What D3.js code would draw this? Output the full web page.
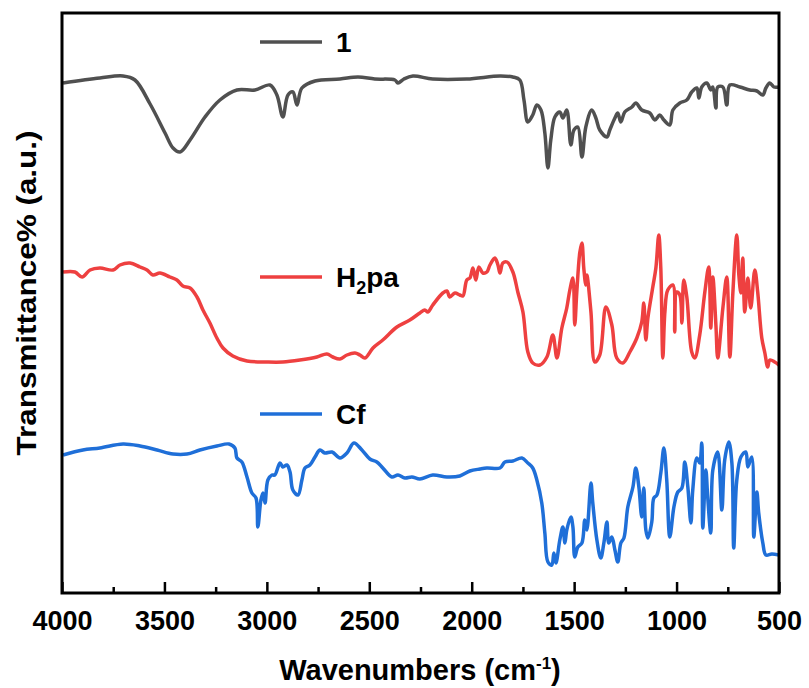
<!DOCTYPE html>
<html>
<head>
<meta charset="utf-8">
<script src="https://cdn.jsdelivr.net/npm/d3@7"></script>
<style>
  body { margin: 0; background: #fff; }
  text { font-family: "Liberation Sans", Arial, sans-serif; font-weight: bold; }
</style>
</head>
<body>
<div id="chart"></div>
<script>
// [wavenumber (cm-1), transmittance (a.u.)]
const spectrum1 = [
  [3995, 510], [3815, 515], [3702, 517], [3644, 513], [3570, 489], [3497, 460], [3458, 445],
  [3424, 441], [3375, 453], [3302, 476], [3229, 493], [3146, 503], [3058, 503], [2985, 508],
  [2951, 498], [2922, 476], [2897, 498], [2873, 501], [2853, 488], [2829, 505], [2765, 512],
  [2643, 514], [2555, 516], [2473, 514], [2375, 513], [2360, 510], [2331, 514], [2287, 517],
  [2190, 514], [2024, 514], [1862, 517], [1799, 516], [1765, 513], [1745, 493], [1726, 471],
  [1702, 478], [1682, 488], [1662, 483], [1643, 460], [1628, 425], [1614, 453], [1594, 476],
  [1570, 481], [1555, 475], [1536, 483], [1516, 448], [1501, 463], [1482, 466], [1462, 436],
  [1443, 466], [1414, 483], [1394, 475], [1375, 463], [1340, 456], [1326, 463], [1301, 475],
  [1287, 480], [1272, 471], [1253, 481], [1218, 486], [1199, 490], [1170, 483], [1131, 480],
  [1106, 473], [1082, 478], [1062, 473], [1033, 468], [1018, 483], [984, 490], [950, 493],
  [926, 501], [901, 505], [891, 495], [877, 506], [852, 510], [833, 503], [823, 506],
  [808, 485], [799, 506], [774, 506], [755, 488], [740, 508], [691, 506], [643, 503],
  [608, 502], [579, 498], [564, 505], [545, 510], [525, 506], [500, 506]
];

const spectrumH2pa = [
  [3995, 321], [3937, 321], [3902, 316], [3863, 323], [3815, 325], [3751, 323], [3717, 328],
  [3668, 330], [3619, 326], [3585, 323], [3556, 318], [3522, 320], [3473, 316], [3439, 313],
  [3410, 307], [3375, 305], [3341, 296], [3312, 283], [3278, 270], [3244, 255], [3214, 245],
  [3166, 237], [3097, 232], [3000, 231], [2922, 231], [2839, 233], [2756, 236], [2707, 239],
  [2678, 236], [2643, 234], [2609, 238], [2570, 240], [2546, 238], [2521, 235], [2482, 245],
  [2434, 253], [2365, 266], [2302, 273], [2253, 280], [2229, 283], [2214, 281], [2190, 288],
  [2141, 300], [2121, 302], [2107, 296], [2082, 300], [2058, 298], [2043, 297], [2024, 313],
  [2009, 315], [1994, 325], [1980, 313], [1965, 326], [1946, 320], [1926, 321], [1911, 328],
  [1887, 335], [1872, 328], [1862, 320], [1848, 330], [1828, 331], [1799, 321], [1775, 301],
  [1750, 281], [1726, 241], [1702, 230], [1667, 228], [1633, 236], [1604, 258], [1584, 235],
  [1560, 265], [1536, 285], [1521, 303], [1506, 315], [1497, 268], [1487, 301], [1472, 341],
  [1462, 350], [1453, 325], [1443, 308], [1438, 318], [1418, 281], [1399, 231], [1375, 238],
  [1345, 286], [1316, 268], [1292, 235], [1262, 230], [1228, 241], [1194, 255], [1170, 271],
  [1160, 290], [1150, 253], [1140, 275], [1116, 306], [1101, 325], [1087, 358], [1077, 325],
  [1067, 235], [1057, 281], [1043, 303], [1018, 308], [1009, 261], [999, 301], [984, 298],
  [974, 270], [965, 313], [950, 296], [926, 241], [911, 235], [887, 258], [862, 301],
  [843, 326], [833, 265], [823, 316], [808, 268], [799, 235], [774, 285], [755, 316],
  [740, 236], [725, 301], [706, 358], [696, 318], [686, 300], [677, 335], [667, 281],
  [652, 315], [638, 285], [618, 323], [604, 301], [584, 255], [569, 240], [555, 226],
  [545, 233], [521, 231], [500, 228]
];

const spectrumCf = [
  [3995, 138], [3898, 143], [3815, 145], [3702, 149], [3619, 147], [3536, 143], [3458, 139],
  [3390, 139], [3327, 143], [3244, 147], [3185, 149], [3156, 145], [3146, 135], [3122, 131],
  [3097, 116], [3073, 100], [3053, 95], [3044, 66], [3029, 93], [3019, 100], [3009, 90],
  [2995, 113], [2975, 118], [2961, 118], [2936, 130], [2922, 126], [2902, 128], [2887, 121],
  [2873, 103], [2848, 98], [2829, 113], [2814, 125], [2790, 128], [2765, 136], [2741, 143],
  [2717, 140], [2682, 141], [2643, 135], [2609, 140], [2575, 150], [2536, 143], [2497, 134],
  [2463, 131], [2434, 125], [2390, 116], [2360, 118], [2326, 115], [2292, 116], [2253, 114],
  [2190, 118], [2121, 116], [2058, 117], [2009, 122], [1960, 124], [1926, 125], [1862, 125],
  [1838, 131], [1799, 132], [1755, 135], [1726, 130], [1702, 125], [1682, 113], [1658, 90],
  [1643, 60], [1628, 31], [1609, 28], [1599, 40], [1589, 30], [1570, 53], [1555, 66],
  [1545, 50], [1536, 63], [1516, 76], [1506, 66], [1497, 36], [1482, 46], [1462, 50],
  [1448, 73], [1438, 63], [1418, 110], [1409, 90], [1389, 53], [1370, 35], [1355, 50],
  [1340, 71], [1331, 50], [1316, 56], [1301, 43], [1287, 31], [1272, 50], [1257, 55],
  [1238, 86], [1213, 106], [1199, 125], [1184, 106], [1170, 76], [1160, 105], [1150, 63],
  [1140, 55], [1121, 71], [1111, 95], [1096, 98], [1077, 120], [1062, 145], [1048, 113],
  [1033, 56], [1013, 86], [994, 101], [974, 105], [960, 131], [945, 106], [930, 70],
  [921, 103], [901, 135], [887, 130], [877, 150], [872, 65], [857, 123], [848, 96],
  [833, 60], [823, 123], [799, 141], [779, 83], [765, 133], [745, 151], [730, 130],
  [721, 45], [706, 113], [686, 136], [662, 141], [652, 126], [633, 136], [623, 56],
  [608, 101], [599, 80], [579, 50], [564, 38], [535, 39], [500, 38]
];

const seriesNames = ["1", "H2pa", "Cf"];
const seriesColors = ["#505050", "#ee4040", "#1f6fd8"];
const xMajorTicks = [4000, 3500, 3000, 2500, 2000, 1500, 1000, 500];
const xMinorTicks = [3750, 3250, 2750, 2250, 1750, 1250, 750];

const width = 809, height = 688;
const margin = { top: 13, right: 30, bottom: 95, left: 62 };

const svg = d3.select("#chart").append("svg")
  .attr("width", width)
  .attr("height", height);

const x = d3.scaleLinear()
  .domain([4000, 500])
  .range([margin.left, width - margin.right]);

const y = d3.scaleLinear()
  .domain([0, 580])
  .range([height - margin.bottom, margin.top]);

const line = d3.line()
  .x(d => x(d[0]))
  .y(d => y(d[1]))
  .curve(d3.curveCatmullRom.alpha(0.5));

svg.append("clipPath").attr("id", "clip")
  .append("rect")
  .attr("x", margin.left).attr("y", margin.top)
  .attr("width", x(500) - x(4000)).attr("height", y(0) - y(580));

[spectrum1, spectrumH2pa, spectrumCf].forEach((s, i) => {
  svg.append("path")
    .datum(s)
    .attr("clip-path", "url(#clip)")
    .attr("fill", "none")
    .attr("stroke", seriesColors[i])
    .attr("stroke-width", 3.5)
    .attr("stroke-linejoin", "round")
    .attr("d", line);
});

// major ticks, pointing inward
const xAxis = svg.append("g")
  .attr("transform", "translate(0," + y(0) + ")")
  .call(d3.axisBottom(x).tickValues(xMajorTicks).tickSize(-11).tickPadding(18).tickFormat(d3.format("d")));
xAxis.select(".domain").remove();
xAxis.selectAll(".tick line").attr("stroke", "#000").attr("stroke-width", 2.5);
xAxis.selectAll(".tick text")
  .attr("fill", "#000")
  .style("font-size", "27px");

const xMinor = svg.append("g")
  .attr("transform", "translate(0," + y(0) + ")")
  .call(d3.axisBottom(x).tickValues(xMinorTicks).tickSize(-6).tickFormat(""));
xMinor.select(".domain").remove();
xMinor.selectAll(".tick line").attr("stroke", "#000").attr("stroke-width", 2.5);

// frame
svg.append("rect")
  .attr("x", margin.left).attr("y", margin.top)
  .attr("width", x(500) - x(4000)).attr("height", y(0) - y(580))
  .attr("fill", "none")
  .attr("stroke", "#000")
  .attr("stroke-width", 3);

// axis titles
const xt = svg.append("text")
  .attr("x", 420).attr("y", 680)
  .attr("text-anchor", "middle")
  .style("font-size", "29px");
xt.append("tspan").text("Wavenumbers (cm");
xt.append("tspan").attr("dy", -11).style("font-size", "17px").text("-1");
xt.append("tspan").attr("dy", 11).text(")");

svg.append("text")
  .attr("transform", "translate(36,293) rotate(-90)")
  .attr("text-anchor", "middle")
  .attr("textLength", 325)
  .attr("lengthAdjust", "spacingAndGlyphs")
  .style("font-size", "28px")
  .text("Transmittance% (a.u.)");

// legends
const legendY = [42, 277, 414];
seriesNames.forEach((name, i) => {
  const g = svg.append("g").attr("transform", "translate(260," + legendY[i] + ")");
  g.append("line")
    .attr("x1", 0).attr("x2", 62)
    .attr("stroke", seriesColors[i])
    .attr("stroke-width", 3.5);
  const t = g.append("text")
    .attr("x", 76).attr("y", 10)
    .style("font-size", "28px");
  if (name === "H2pa") {
    t.append("tspan").text("H");
    t.append("tspan").attr("dy", 7).style("font-size", "18px").text("2");
    t.append("tspan").attr("dy", -7).text("pa");
  } else {
    t.text(name);
  }
});
</script>
</body>
</html>
